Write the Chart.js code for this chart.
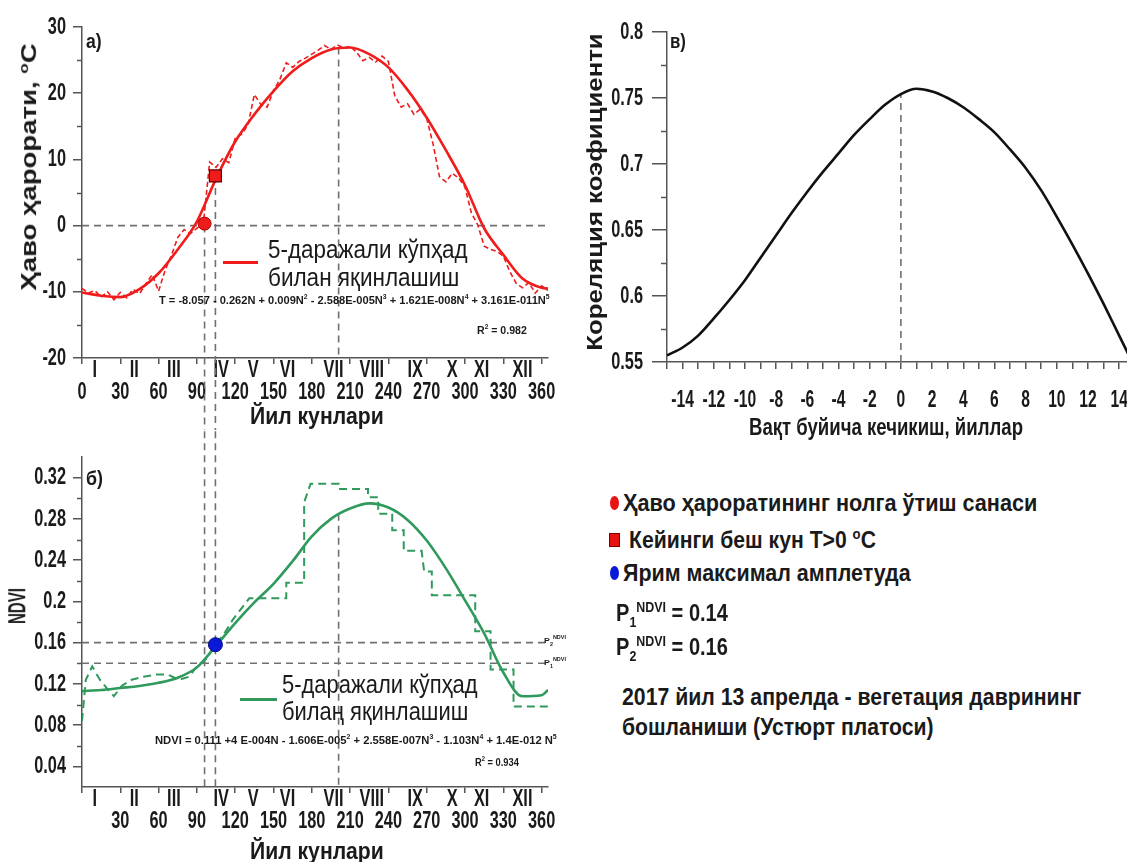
<!DOCTYPE html>
<html><head><meta charset="utf-8">
<script src="https://cdn.jsdelivr.net/npm/chart.js@4.4.0/dist/chart.umd.min.js"></script>
<style>
html,body{margin:0;padding:0;background:#fff;}
body{width:1127px;height:862px;position:relative;overflow:hidden;font-family:"Liberation Sans",Arial,sans-serif;color:#1a1a1a;}
canvas{position:absolute;}
.t{position:absolute;white-space:nowrap;line-height:1;visibility:hidden;}
.b{font-weight:bold;}
.mk{position:absolute;}
sup,sub{font-size:62%;line-height:0;}
</style></head><body>
<canvas id="ca" width="560" height="430" style="left:0;top:0"></canvas>
<canvas id="cb" width="560" height="432" style="left:0;top:430px"></canvas>
<canvas id="cc" width="567" height="440" style="left:560px;top:0"></canvas>

<!-- panel labels -->
<div class="t b" data-x="86" data-cy="40" data-w="16" style="font-size:21px">a)</div>
<div class="t b" data-x="86" data-cy="477" data-w="17" style="font-size:21px">б)</div>
<div class="t b" data-x="670" data-cy="40" data-w="16" style="font-size:21px">в)</div>

<!-- axis titles -->
<div class="t b" data-rot="1" data-cx="28.5" data-cy="167" data-w="247" data-k="0.85" style="font-size:26px">Ҳаво ҳарорати, <sup>o</sup>C</div>
<div class="t b" data-rot="1" data-cx="17" data-cy="606" data-w="36" data-k="1.15" style="font-size:20px">NDVI</div>
<div class="t b" data-rot="1" data-cx="594" data-cy="192" data-w="317" data-k="0.85" style="font-size:26px">Кореляция коэфициенти</div>
<div class="t b" data-cx="317" data-cy="416" data-w="134" style="font-size:24px">Йил кунлари</div>
<div class="t b" data-cx="317" data-cy="851" data-w="134" style="font-size:24px">Йил кунлари</div>
<div class="t b" data-cx="886" data-cy="427" data-w="274" style="font-size:24px">Вақт буйича кечикиш, йиллар</div>

<!-- a) legend + equation -->
<div class="mk" style="left:223px;top:261px;width:35px;border-top:3px solid #f01c1c"></div>
<div class="t" data-x="268" data-cy="249" data-w="200" style="font-size:25px">5-даражали кўпҳад</div>
<div class="t" data-x="268" data-cy="277" data-w="191" style="font-size:25px">билан яқинлашиш</div>
<div class="t b" data-x="159" data-cy="300" data-w="391" style="font-size:11px">T = -8.057 - 0.262N + 0.009N<sup>2</sup> - 2.588E-005N<sup>3</sup> + 1.621E-008N<sup>4</sup> + 3.161E-011N<sup>5</sup></div>
<div class="t b" data-x="477" data-cy="330" data-w="50" style="font-size:11px">R<sup>2</sup> = 0.982</div>

<!-- б) legend + equation -->
<div class="mk" style="left:240px;top:698px;width:37px;border-top:3px solid #2f9a5c"></div>
<div class="t" data-x="282" data-cy="684" data-w="196" style="font-size:25px">5-даражали кўпҳад</div>
<div class="t" data-x="282" data-cy="711" data-w="186" style="font-size:25px">билаң яқинлашиш</div>
<div class="t b" data-x="155" data-cy="740" data-w="402" style="font-size:11px">NDVI = 0.111 +4 E-004N - 1.606E-005<sup>2</sup> + 2.558E-007N<sup>3</sup> - 1.103N<sup>4</sup> + 1.4E-012 N<sup>5</sup></div>
<div class="t b" data-x="475" data-cy="762" data-w="44" style="font-size:11px">R<sup>2</sup> = 0.934</div>
<div class="t b" data-x="544" data-cy="641" data-w="22" style="font-size:8px">P<sub>2</sub><sup>NDVI</sup></div>
<div class="t b" data-x="544" data-cy="663" data-w="22" style="font-size:8px">P<sub>1</sub><sup>NDVI</sup></div>

<!-- right-hand legend -->
<div class="mk" style="left:610px;top:496px;width:9px;height:14px;border-radius:50%;background:#e81414"></div>
<div class="t b" data-x="623" data-cy="503" data-w="414" style="font-size:24px">Ҳаво ҳароратининг нолга ўтиш санаси</div>
<div class="mk" style="left:609px;top:533px;width:9px;height:12px;background:#e81414;border:1px solid #700"></div>
<div class="t b" data-x="629" data-cy="540" data-w="247" style="font-size:24px">Кейинги беш кун T&gt;0 <sup>o</sup>C</div>
<div class="mk" style="left:610px;top:566px;width:9px;height:14px;border-radius:50%;background:#0a18d8"></div>
<div class="t b" data-x="623" data-cy="573" data-w="288" style="font-size:24px">Ярим максимал амплетуда</div>
<div class="t b" data-x="616" data-cy="613" data-w="112" style="font-size:24px">P<sub>1</sub><sup>NDVI</sup> = 0.14</div>
<div class="t b" data-x="616" data-cy="647" data-w="112" style="font-size:24px">P<sub>2</sub><sup>NDVI</sup> = 0.16</div>
<div class="t b" data-x="622" data-cy="697" data-w="459" style="font-size:24px">2017 йил 13 апрелда - вегетация даврининг</div>
<div class="t b" data-x="622" data-cy="727" data-w="312" style="font-size:24px">бошланиши (Устюрт платоси)</div>

<script>
// ---------- DATA ----------
const monthLabels = ['I','II','III','IV','V','VI','VII','VIII','IX','X','XI','XII'];
const monthPos = [10, 41, 72, 109, 134, 161, 197, 227, 261, 290, 313, 345];
const dayTicks = [0, 30, 60, 90, 120, 150, 180, 210, 240, 270, 300, 330, 360];

const tempTicks = [-20, -10, 0, 10, 20, 30];
const tempMinor = [-15, -5, 5, 15, 25];
const ndviTicks = [0.04, 0.08, 0.12, 0.16, 0.2, 0.24, 0.28, 0.32];
const ndviTickLabels = ['0.04', '0.08', '0.12', '0.16', '0.2', '0.24', '0.28', '0.32'];
const ndviMinor = [0.06, 0.10, 0.14, 0.18, 0.22, 0.26, 0.30];
const corrTicks = [0.55, 0.6, 0.65, 0.7, 0.75, 0.8];
const corrTickLabels = ['0.55', '0.6', '0.65', '0.7', '0.75', '0.8'];
const corrMinor = [0.575, 0.625, 0.675, 0.725, 0.775];
const lagTickLabels = [-14, -12, -10, -8, -6, -4, -2, 0, 2, 4, 6, 8, 10, 12, 14];

// a) air temperature, observed (5-day steps)
const tempObsDays = [0,5,10,15,20,25,30,35,40,45,50,55,60,65,70,75,80,85,90,95,100,105,110,115,120,125,130,135,140,145,150,155,160,165,170,175,180,185,190,195,200,205,210,215,220,225,230,235,240,245,250,255,260,265,270,275,280,285,290,295,300,305,310,315,320,325,330,335,340,345,350,355,360,365];
const tempObs = [-9.5,-10.2,-9.8,-10.8,-10.0,-11.2,-10.1,-10.9,-9.6,-10.3,-8.8,-7.4,-9.9,-6.8,-4.5,-1.8,-0.6,-1.2,-0.4,0.2,9.6,8.8,10.1,9.5,13.2,13.8,15.2,19.8,18.3,17.9,20.4,22.1,24.6,23.9,24.8,25.3,25.9,26.5,27.2,26.6,27.3,26.8,27.1,26.2,24.9,25.4,24.7,25.6,24.8,19.6,17.9,18.4,16.8,17.6,16.2,12.3,7.4,6.6,7.9,7.2,5.8,1.9,0.1,-3.1,-3.6,-3.9,-4.6,-6.9,-8.7,-9.4,-8.6,-10.2,-9.1,-9.8];
// fitted curves
const fitDays = [0,15,30,45,60,75,90,105,120,135,150,165,180,195,210,225,240,255,270,285,300,315,330,345,360,365];
const tempFit = [-10.1,-10.6,-10.8,-9.6,-7.2,-3.6,0.6,7.1,12.7,16.8,20.3,23.3,25.3,26.6,26.9,25.9,23.9,20.5,16.3,11.4,6.1,-0.4,-4.4,-8.0,-9.4,-9.5];
const ndviFit = [0.113,0.114,0.116,0.118,0.121,0.126,0.136,0.157,0.179,0.199,0.217,0.239,0.263,0.280,0.290,0.295,0.291,0.279,0.259,0.232,0.201,0.169,0.131,0.108,0.109,0.114];

// б) NDVI observed (composite steps)
const ndviObsDays = [0,3,8,14,20,25,31,39,48,58,67,76,84,90,97,104,112,118,126,131,160,160,174,174,179,201,201,224,224,232,232,243,243,252,252,266,268,274,274,308,308,320,320,338,338,365];
const ndviObs = [0.084,0.124,0.137,0.124,0.115,0.108,0.118,0.124,0.127,0.129,0.129,0.124,0.127,0.137,0.144,0.157,0.170,0.182,0.195,0.203,0.203,0.218,0.218,0.296,0.314,0.314,0.309,0.309,0.301,0.301,0.285,0.285,0.269,0.269,0.249,0.249,0.229,0.229,0.206,0.206,0.171,0.171,0.134,0.134,0.098,0.098];

// в) correlation vs lag
const lagYears = [-15,-14,-13,-12,-11,-10,-9,-8,-7,-6,-5,-4,-3,-2,-1,0,1,2,3,4,5,6,7,8,9,10,11,12,13,14,15];
const corr = [0.555,0.561,0.570,0.583,0.597,0.612,0.629,0.646,0.663,0.679,0.694,0.708,0.722,0.734,0.745,0.753,0.757,0.755,0.750,0.743,0.734,0.724,0.711,0.697,0.680,0.660,0.639,0.617,0.594,0.570,0.546];

// markers and reference levels
const zeroCrossDay = 96, zeroCrossT = 0.3;
const warmDay = 104.5, warmT = 7.5;
const halfAmpDay = 104.5, halfAmpNdvi = 0.158;
const P1 = 0.14, P2 = 0.16;
const peakDay = 201, peakT = 26.9, peakNdviAtDay = 0.285;
const corrPeakLag = 0, corrAtLag0 = 0.753;

// ---------- STYLE ----------
const FONT = '"Liberation Sans",Arial,sans-serif';
const AXIS = '#555555', REF = '#707070', RED = '#f01c1c', GREEN = '#2f9a5c', BLUE = '#0a18d8';
const SQUEEZE = 0.68; // narrow (condensed) look of the original lettering
Chart.defaults.font.family = FONT;
Chart.defaults.color = '#1a1a1a';

// condensed text on canvas: squeeze glyphs horizontally around their anchor
function narrowCtx(canvas) {
  const ctx = canvas.getContext('2d');
  const orig = CanvasRenderingContext2D.prototype.fillText;
  ctx.fillText = function (text, x, y, maxWidth) {
    this.save(); this.translate(x, y); this.scale(SQUEEZE, 1);
    if (maxWidth === undefined) orig.call(this, text, 0, 0); else orig.call(this, text, 0, 0, maxWidth / SQUEEZE);
    this.restore();
  };
  return ctx;
}

const xy = (xs, ys) => xs.map((x, i) => ({x, y: ys[i]}));
const refLine = (pts) => ({data: pts, borderColor: REF, borderWidth: 1.6, borderDash: [7, 5], pointRadius: 0, clip: false, tension: 0});

const minorTicks = {
  id: 'minorTicks',
  afterDraw(chart, args, opts) {
    const s = chart.scales.y, ctx = chart.ctx;
    ctx.save(); ctx.strokeStyle = AXIS; ctx.lineWidth = 1.5;
    (opts.values || []).forEach(v => {
      const y = Math.round(s.getPixelForValue(v)) + 0.5;
      ctx.beginPath(); ctx.moveTo(s.right - opts.len, y); ctx.lineTo(s.right, y); ctx.stroke();
    });
    ctx.restore();
  }
};

function dayAxis(showZero, height) {
  return {
    type: 'linear', min: 0, max: 365,
    afterBuildTicks: s => { s.ticks = dayTicks.concat(monthPos).sort((a, b) => a - b).map(v => ({value: v})); },
    afterFit: s => { s.height = height; s.paddingLeft = 0; s.paddingRight = 0; },
    ticks: {
      autoSkip: false, maxRotation: 0, minRotation: 0, padding: -5,
      font: {size: 24, weight: 'bold', lineHeight: 0.93},
      callback: v => {
        const i = monthPos.indexOf(v);
        if (i >= 0) return monthLabels[i];
        return ['', (v === 0 && !showZero) ? '' : String(v)];
      }
    },
    grid: {drawOnChartArea: false, tickLength: 6, lineWidth: 1.5, color: AXIS,
      tickColor: c => (c.tick && monthPos.includes(c.tick.value)) ? 'rgba(0,0,0,0)' : AXIS},
    border: {color: AXIS, width: 1.5},
    title: {display: false}
  };
}

function leftAxis(min, max, ticks, labelFn, width, tickLen, pad) {
  return {
    type: 'linear', min, max,
    afterBuildTicks: s => { s.ticks = ticks.map(v => ({value: v})); },
    afterFit: s => { s.width = width; s.paddingTop = 0; s.paddingBottom = 0; },
    ticks: {padding: pad, font: {size: 24, weight: 'bold'}, callback: labelFn},
    grid: {drawOnChartArea: false, tickLength: tickLen, lineWidth: 1.5, color: AXIS},
    border: {color: AXIS, width: 1.5},
    title: {display: false}
  };
}

const baseOpts = {responsive: false, animation: false, devicePixelRatio: 1, events: []};

// ---------- a) temperature ----------
new Chart(narrowCtx(document.getElementById('ca')), {
  type: 'line',
  data: {datasets: [
    {data: [{x: zeroCrossDay, y: zeroCrossT}], showLine: false, pointStyle: 'circle', pointRadius: 6.5, backgroundColor: RED, borderColor: '#b00000', borderWidth: 1},
    {data: [{x: warmDay, y: warmT}], showLine: false, pointStyle: 'rect', pointRadius: 8.5, backgroundColor: RED, borderColor: '#600000', borderWidth: 1.2},
    {data: xy(fitDays, tempFit), borderColor: RED, borderWidth: 2.6, pointRadius: 0, cubicInterpolationMode: 'monotone'},
    {data: xy(tempObsDays, tempObs), borderColor: RED, borderWidth: 1.6, borderDash: [5, 3], pointRadius: 0, tension: 0},
    refLine([{x: 0, y: 0}, {x: 365, y: 0}]),
    refLine([{x: zeroCrossDay, y: 0}, {x: zeroCrossDay, y: -40}]),
    refLine([{x: warmDay, y: warmT}, {x: warmDay, y: -40}]),
    refLine([{x: peakDay, y: peakT}, {x: peakDay, y: -20}])
  ]},
  options: Object.assign({}, baseOpts, {
    layout: {padding: {top: 27, right: 12, left: 0, bottom: 0}},
    plugins: {legend: {display: false}, tooltip: {enabled: false}, minorTicks: {values: tempMinor, len: 5}},
    scales: {
      x: dayAxis(true, 72),
      y: leftAxis(-20, 30, tempTicks, v => String(v), 82, 9, 7)
    }
  }),
  plugins: [minorTicks]
});

// ---------- б) NDVI ----------
new Chart(narrowCtx(document.getElementById('cb')), {
  type: 'line',
  data: {datasets: [
    {data: [{x: halfAmpDay, y: halfAmpNdvi}], showLine: false, pointStyle: 'circle', pointRadius: 7, backgroundColor: BLUE, borderColor: '#000a80', borderWidth: 1},
    {data: xy(fitDays, ndviFit), borderColor: GREEN, borderWidth: 2.6, pointRadius: 0, cubicInterpolationMode: 'monotone'},
    {data: xy(ndviObsDays, ndviObs), borderColor: GREEN, borderWidth: 2, borderDash: [8, 5], pointRadius: 0, tension: 0},
    refLine([{x: 0, y: P2}, {x: 365, y: P2}]),
    refLine([{x: 0, y: P1}, {x: 365, y: P1}]),
    refLine([{x: zeroCrossDay, y: 0.40}, {x: zeroCrossDay, y: 0.02}]),
    refLine([{x: halfAmpDay, y: 0.40}, {x: halfAmpDay, y: 0.02}]),
    refLine([{x: peakDay, y: peakNdviAtDay}, {x: peakDay, y: 0.02}])
  ]},
  options: Object.assign({}, baseOpts, {
    layout: {padding: {top: 27, right: 12, left: 0, bottom: 0}},
    plugins: {legend: {display: false}, tooltip: {enabled: false}, minorTicks: {values: ndviMinor, len: 5}},
    scales: {
      x: dayAxis(false, 75),
      y: leftAxis(0.02, 0.34, ndviTicks, v => ndviTickLabels[ndviTicks.indexOf(v)] || '', 82, 9, 7)
    }
  }),
  plugins: [minorTicks]
});

// ---------- в) correlation ----------
new Chart(narrowCtx(document.getElementById('cc')), {
  type: 'line',
  data: {datasets: [
    {data: xy(lagYears, corr), borderColor: '#111111', borderWidth: 2.6, pointRadius: 0, cubicInterpolationMode: 'monotone'},
    refLine([{x: corrPeakLag, y: 0.55}, {x: corrPeakLag, y: corrAtLag0}])
  ]},
  options: Object.assign({}, baseOpts, {
    layout: {padding: {top: 32, right: 0, left: 0, bottom: 0}},
    plugins: {legend: {display: false}, tooltip: {enabled: false}, minorTicks: {values: corrMinor, len: 6}},
    scales: {
      x: {
        type: 'linear', min: -15, max: 14.5,
        afterBuildTicks: s => { s.ticks = lagYears.filter(v => v <= 14.5).map(v => ({value: v})); },
        afterFit: s => { s.height = 78; s.paddingLeft = 0; s.paddingRight = 0; },
        ticks: {autoSkip: false, maxRotation: 0, minRotation: 0, padding: 20, font: {size: 23, weight: 'bold', lineHeight: 1},
          callback: v => lagTickLabels.includes(v) ? String(v) : ''},
        grid: {drawOnChartArea: false, tickLength: 7, lineWidth: 1.5, color: AXIS},
        border: {color: AXIS, width: 1.5},
        title: {display: false}
      },
      y: leftAxis(0.55, 0.8, corrTicks, v => corrTickLabels[corrTicks.indexOf(v)] || '', 107, 15, 9)
    }
  }),
  plugins: [minorTicks]
});

// ---------- place the HTML texts (condensed lettering like the original) ----------
document.querySelectorAll('.t').forEach(el => {
  const w = el.offsetWidth, h = el.offsetHeight;
  const target = parseFloat(el.dataset.w || w);
  const k = target / w;
  const cy = parseFloat(el.dataset.cy);
  if (el.dataset.rot) {
    const cx = parseFloat(el.dataset.cx);
    el.style.left = (cx - w / 2) + 'px';
    el.style.top = (cy - h / 2) + 'px';
    el.style.transformOrigin = '50% 50%';
    el.style.transform = 'rotate(-90deg) scale(' + k + ',' + (el.dataset.k || 1) + ')';
  } else if (el.dataset.cx) {
    const cx = parseFloat(el.dataset.cx);
    el.style.left = (cx - w / 2) + 'px';
    el.style.top = (cy - h / 2) + 'px';
    el.style.transformOrigin = '50% 50%';
    el.style.transform = 'scaleX(' + k + ')';
  } else {
    el.style.left = el.dataset.x + 'px';
    el.style.top = (cy - h / 2) + 'px';
    el.style.transformOrigin = '0 50%';
    el.style.transform = 'scaleX(' + k + ')';
  }
  el.style.visibility = 'visible';
});
</script>
</body></html>
